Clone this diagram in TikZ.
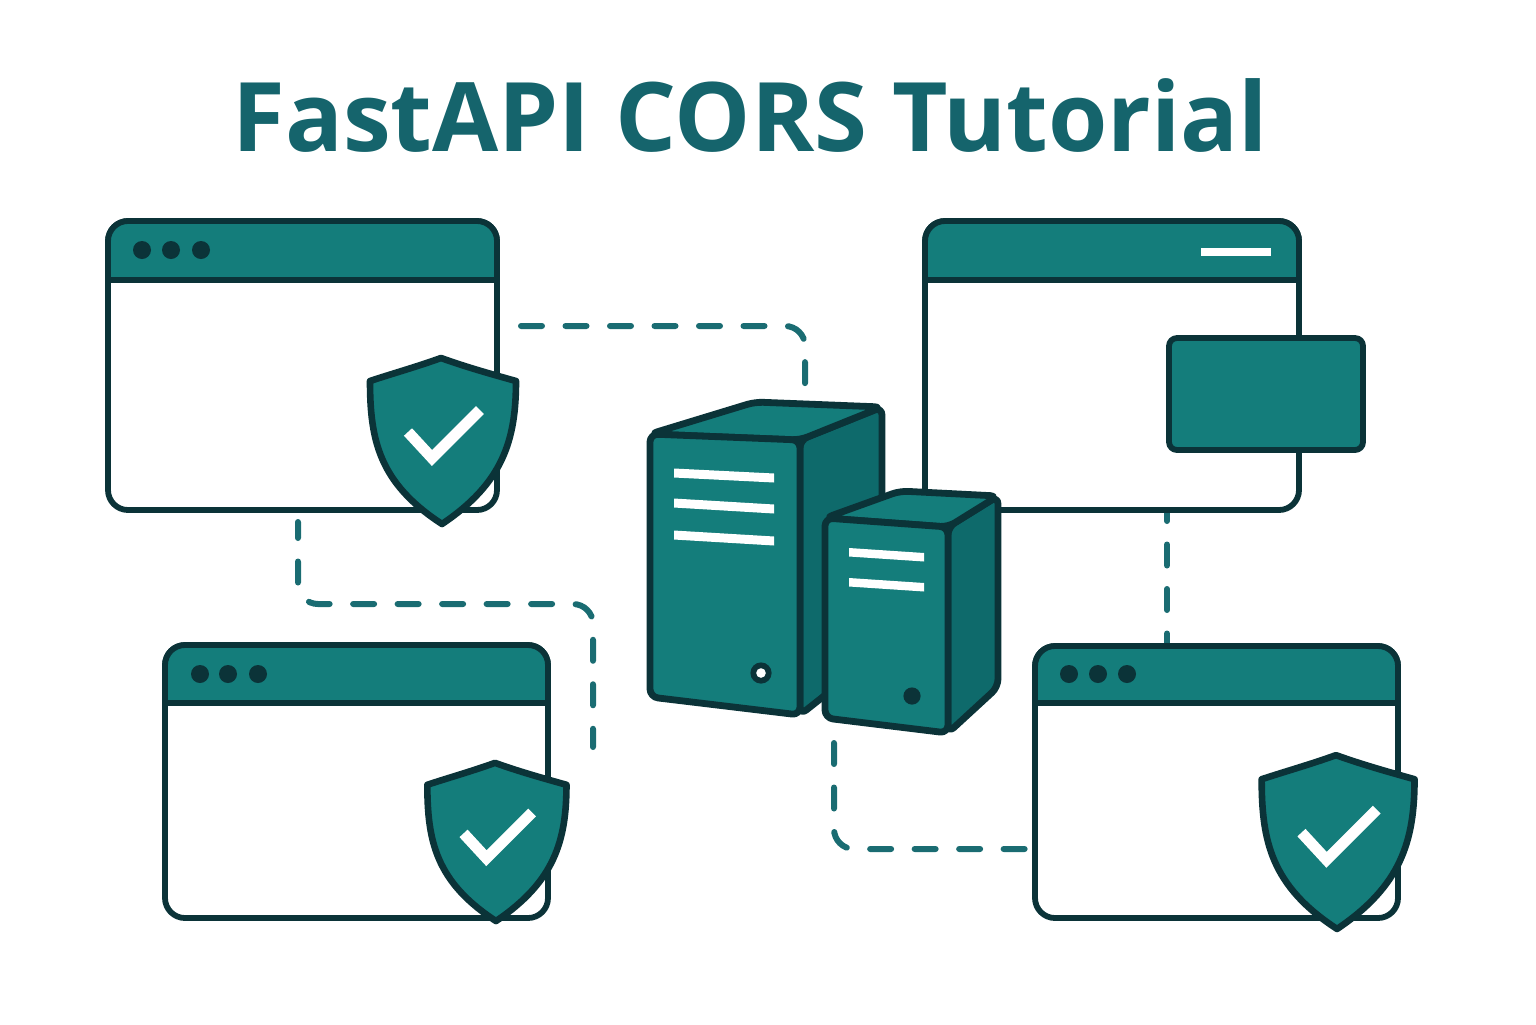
\documentclass[tikz,border=0pt]{standalone}
\usepackage{fontspec}
\setmainfont{Open Sans}
\definecolor{tealmain}{HTML}{147D7B}
\definecolor{tealside}{HTML}{0E6A6B}
\definecolor{tealdark}{HTML}{0B3338}
\definecolor{teallink}{HTML}{1A6C72}
\definecolor{tealtitle}{HTML}{15646C}
\tikzset{
  winbody/.style={draw=tealdark,fill=white,line width=2.9pt,rounded corners=10pt,inner sep=0pt},
  winhead/.style={draw=tealdark,fill=tealmain,line width=2.9pt,line join=round},
  link/.style={draw=teallink,line width=3pt,line cap=round,rounded corners=10pt,dash pattern=on 10.5pt off 11.75pt},
  serverface/.style={draw=tealdark,fill=tealmain,line width=3.4pt,line join=round,rounded corners=4pt},
  serverside/.style={draw=tealdark,fill=tealside,line width=3.4pt,line join=round,rounded corners=4pt},
  whitebar/.style={fill=white,draw=none},
  dot/.style={fill=tealdark,draw=none},
}
% frame: name, x1, y1, x2, y2, bottom of header
\newcommand{\browser}[6]{
\node[winbody,minimum width={(#4-#2)*0.5pt},minimum height={(#5-#3)*0.5pt}] (#1) at ({(#2+#4)/2},{(#3+#5)/2}) {};
\draw[winhead] (#2,#6) [rounded corners=10pt] -- (#2,#3) -- (#4,#3) [sharp corners] -- (#4,#6) -- cycle;
}
% top point of the shield, scale
\newcommand{\shield}[3]{
\begin{scope}[shift={(#1,#2)},scale=#3]
\draw[winhead,line width=3.3pt] (0,3) .. controls (-25,12) and (-50,19) .. (-71,26)
  .. controls (-71,85) and (-62,128) .. (1,169)
  .. controls (62,128) and (75,85) .. (75,26)
  .. controls (50,19) and (25,12) .. (0,3) -- cycle;
\draw[white,line width=5.5pt] (-33,77) -- (-9,103) -- (39,55);
\end{scope}
}
\begin{document}
\begin{tikzpicture}[x=0.5pt,y=-0.5pt]
\useasboundingbox (0,0) rectangle (1536,1024);

\node[text=tealtitle,font=\fontsize{48}{48}\selectfont\bfseries] (title) at (750,115) {FastAPI CORS Tutorial};

\coordinate (linkAright) at (521,326);
\coordinate (linkAbot) at (298,522);
\coordinate (linkBbot) at (1167,500);
\coordinate (linkDtop) at (1167,650);
\coordinate (linkDleft) at (1040,849);
\coordinate (linkCbend) at (593,604);
\coordinate (linkCend) at (593,747);
\coordinate (srvtop) at (805,386);
\coordinate (srvbot) at (834,743);

\draw[link] (linkAright) -| (srvtop);
\draw[link,dash phase=2.5pt] (linkAbot) |- (linkCbend) -- (linkCend);
\draw[link] (linkBbot) -- (linkDtop);
\draw[link] (srvbot) |- (linkDleft);

\browser{winA}{108}{221}{497}{510}{280}
\browser{winB}{925}{221}{1299}{510}{280}
\browser{winC}{165}{645}{548}{918}{703}
\browser{winD}{1035}{646}{1398}{918}{703}

\foreach \x in {142,171,201}{
\fill[dot] (\x,250) circle (4.5pt);}
\foreach \x in {200,228,258}{
\fill[dot] (\x,674) circle (4.5pt);}
\foreach \x in {1069,1098,1127}{
\fill[dot] (\x,674) circle (4.5pt);}

\fill[whitebar] (1201,248) rectangle (1271,256);
\draw[winhead,rounded corners=4pt] (1169,338) rectangle (1363,450);

\shield{441}{355}{1}
\shield{495}{760}{0.953}
\shield{1336}{752}{1.047}

% big server
\draw[serverside] (800,440) -- (882,407) -- (882,650) -- (800,715) -- cycle;
\draw[serverface] (650,434) -- (755,402) -- (882,407) -- (800,440) -- cycle;
\draw[serverface] (650,434) -- (800,440) -- (800,715) -- (650,697) -- cycle;
\fill[whitebar] (674,468.5) -- (774,473.5) -- (774,482.5) -- (674,477.5) -- cycle;
\fill[whitebar] (674,498.5) -- (774,504.5) -- (774,513.5) -- (674,507.5) -- cycle;
\fill[whitebar] (674,530.5) -- (774,536.5) -- (774,545.5) -- (674,539.5) -- cycle;
\fill[dot] (761,673) circle (5.3pt);
\fill[white] (761,673) circle (2.4pt);

% small server
\draw[serverside] (948,527) -- (998,496) -- (998,687) -- (948,733) -- cycle;
\draw[serverface] (825,518) -- (900,491) -- (998,496) -- (948,527) -- cycle;
\draw[serverface] (825,518) -- (948,527) -- (948,733) -- (825,718) -- cycle;
\fill[whitebar] (849,548) -- (924,553) -- (924,561.5) -- (849,556.5) -- cycle;
\fill[whitebar] (849,578) -- (924,583) -- (924,591.5) -- (849,586.5) -- cycle;
\fill[dot] (912,696) circle (4.3pt);

\end{tikzpicture}
\end{document}
